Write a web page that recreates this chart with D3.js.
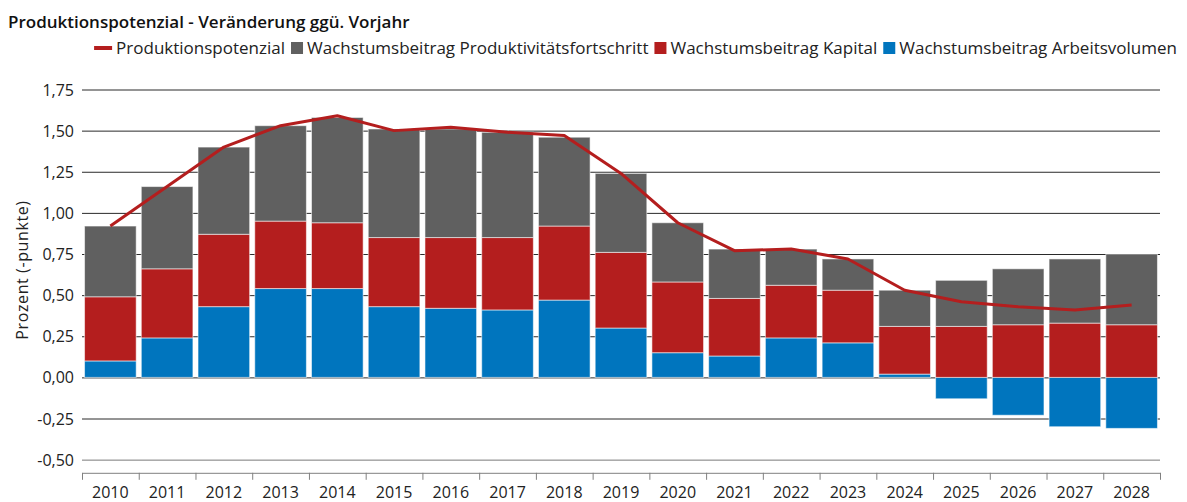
<!DOCTYPE html>
<html>
<head>
<meta charset="utf-8">
<script src="https://cdn.jsdelivr.net/npm/d3@7"></script>
<style>
    body { margin: 0; background: #fff; }
    svg, svg text { font-family: 'Open Sans', 'Noto Sans', sans-serif; }
    .title { font-size: 17px; font-weight: 600; fill: #111; }
    .legend text { font-size: 17px; fill: #222; }
    .tick text { font-size: 16px; fill: #222; }
    .label { font-size: 16px; fill: #222; }
</style>
</head>
<body>
<svg width="1187" height="502"></svg>
<script>
const years = ['2010', '2011', '2012', '2013', '2014', '2015', '2016', '2017', '2018', '2019',
    '2020', '2021', '2022', '2023', '2024', '2025', '2026', '2027', '2028'];
const arbeitsvolumen = [0.10, 0.24, 0.43, 0.54, 0.54, 0.43, 0.42, 0.41, 0.47, 0.30,
    0.15, 0.13, 0.24, 0.21, 0.02, -0.13, -0.23, -0.30, -0.31];
const kapital = [0.39, 0.42, 0.44, 0.41, 0.40, 0.42, 0.43, 0.44, 0.45, 0.46,
    0.43, 0.35, 0.32, 0.32, 0.29, 0.31, 0.32, 0.33, 0.32];
const produktivitaet = [0.43, 0.50, 0.53, 0.58, 0.64, 0.66, 0.66, 0.64, 0.54, 0.48,
    0.36, 0.30, 0.22, 0.19, 0.22, 0.28, 0.34, 0.39, 0.43];
const potenzial = [0.92, 1.16, 1.40, 1.53, 1.59, 1.50, 1.52, 1.49, 1.47, 1.24,
    0.94, 0.77, 0.78, 0.72, 0.53, 0.46, 0.43, 0.41, 0.44];
const yTicks = [-0.5, -0.25, 0, 0.25, 0.5, 0.75, 1, 1.25, 1.5, 1.75];

const series = [
    { key: 'arbeit', name: 'Wachstumsbeitrag Arbeitsvolumen', color: '#0075be' },
    { key: 'kapital', name: 'Wachstumsbeitrag Kapital', color: '#b41e1e' },
    { key: 'prod', name: 'Wachstumsbeitrag Produktivitätsfortschritt', color: '#606060' }
];
const lineColor = '#b41e1e';

const rows = years.map((yr, i) => ({
    year: yr,
    arbeit: arbeitsvolumen[i],
    kapital: kapital[i],
    prod: produktivitaet[i],
    total: potenzial[i]
}));

const svg = d3.select('svg');

const plotLeft = 82, plotRight = 1160, plotTop = 89.5, plotBottom = 472.8;

const x = d3.scaleBand()
    .domain(years)
    .range([plotLeft, plotRight])
    .paddingInner(0.09)
    .paddingOuter(0.045);

const y = d3.scaleLinear()
    .domain([-0.58, 1.75])
    .range([plotBottom, plotTop]);

const fmt = (v) => v.toFixed(2).replace('.', ',');

// grid lines
svg.append('g')
    .attr('class', 'grid')
    .attr('transform', `translate(${plotLeft}, 0)`)
    .call(d3.axisLeft(y).tickValues(yTicks).tickSize(-(plotRight - plotLeft)).tickFormat(''))
    .call(g => g.select('.domain').remove())
    .call(g => g.selectAll('line')
        .attr('stroke', d => d === -0.5 ? '#7a7a7a' : '#2a2a2a')
        .attr('stroke-width', 1));

// y labels
svg.append('g')
    .attr('transform', `translate(${plotLeft - 8}, 0)`)
    .call(d3.axisLeft(y).tickValues(yTicks).tickSize(0).tickFormat(fmt))
    .call(g => g.select('.domain').remove())
    .call(g => g.selectAll('text').attr('x', 0).attr('dy', '0.35em'));

// stacked bars
const stacked = d3.stack()
    .keys(series.map(s => s.key))
    .offset(d3.stackOffsetDiverging)(rows);

svg.append('g')
    .selectAll('g')
    .data(stacked)
    .enter()
    .append('g')
    .attr('fill', (d, i) => series[i].color)
    .selectAll('rect')
    .data(d => d)
    .enter()
    .append('rect')
    .attr('x', d => x(d.data.year))
    .attr('width', x.bandwidth())
    .attr('y', d => y(Math.max(d[0], d[1])))
    .attr('height', d => Math.abs(y(d[0]) - y(d[1])))
    .attr('stroke', '#fff')
    .attr('stroke-opacity', 0.55)
    .attr('stroke-width', 1);

// line
const line = d3.line()
    .x(d => x(d.year) + x.bandwidth() / 2)
    .y(d => y(d.total));

svg.append('path')
    .datum(rows)
    .attr('d', line)
    .attr('fill', 'none')
    .attr('stroke', lineColor)
    .attr('stroke-width', 3)
    .attr('stroke-linejoin', 'round');

// x axis
const xEdges = d3.scaleLinear().domain([0, years.length]).range([plotLeft, plotRight]);
svg.append('g')
    .attr('transform', `translate(0, ${plotBottom})`)
    .call(d3.axisBottom(xEdges).tickValues(d3.range(years.length + 1)).tickSize(7).tickSizeOuter(0).tickFormat(''))
    .call(g => g.select('.domain').attr('stroke', '#808080'))
    .call(g => g.selectAll('line').attr('stroke', '#808080'));

svg.append('g')
    .attr('transform', `translate(0, ${plotBottom + 12})`)
    .call(d3.axisBottom(x).tickSize(0))
    .call(g => g.select('.domain').remove())
    .call(g => g.selectAll('text').attr('y', 0).attr('dy', '0.85em'));

// axis label
svg.append('text')
    .attr('class', 'label')
    .attr('transform', 'rotate(-90)')
    .attr('x', -270)
    .attr('y', 28)
    .attr('text-anchor', 'middle')
    .attr('letter-spacing', '0.6px')
    .text('Prozent (-punkte)');

// title
svg.append('text')
    .attr('class', 'title')
    .attr('x', 8)
    .attr('y', 28)
    .text('Produktionspotenzial - Veränderung ggü. Vorjahr');

// legend
const legendItems = [{ name: 'Produktionspotenzial', color: lineColor, type: 'line' }]
    .concat(series.slice().reverse().map(s => ({ name: s.name, color: s.color, type: 'rect' })));

const legend = svg.append('g').attr('class', 'legend');
let lx = 0;
legendItems.forEach((item) => {
    const g = legend.append('g').attr('transform', `translate(${lx}, 0)`);
    let sw;
    if (item.type === 'line') {
        g.append('rect').attr('x', 0).attr('y', -2).attr('width', 18).attr('height', 4).attr('fill', item.color);
        sw = 22;
    } else {
        g.append('rect').attr('x', 0).attr('y', -6).attr('width', 12).attr('height', 12).attr('fill', item.color);
        sw = 16;
    }
    const t = g.append('text').attr('x', sw).attr('y', 0).attr('dy', '0.35em').text(item.name);
    lx += sw + t.node().getComputedTextLength() + 6;
});
legend.attr('transform', `translate(${1177 + 6 - lx}, 48)`);
</script>
</body>
</html>
